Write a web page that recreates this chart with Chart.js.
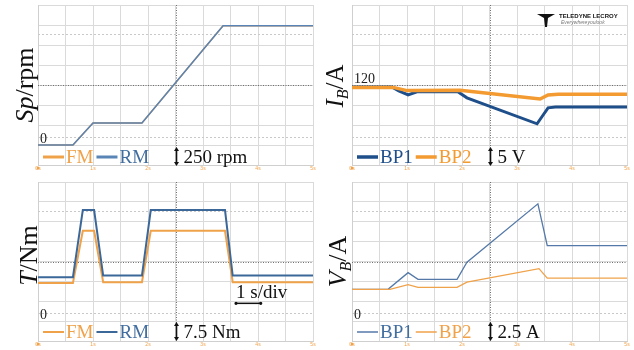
<!DOCTYPE html>
<html>
<head>
<meta charset="utf-8">
<script src="https://cdn.jsdelivr.net/npm/chart.js@4"></script>
<style>
  body{margin:0;background:#fff;width:634px;height:350px;position:relative;overflow:hidden}
  canvas{position:absolute}
</style>
</head>
<body>
<canvas id="cSp" width="320" height="175" style="left:0;top:0"></canvas>
<canvas id="cIb" width="314" height="175" style="left:320px;top:0"></canvas>
<canvas id="cT" width="320" height="175" style="left:0;top:175px"></canvas>
<canvas id="cVb" width="314" height="175" style="left:320px;top:175px"></canvas>
<script>
"use strict";
// axe du temps (graduations tous les 2 carreaux)
const TICK_LABELS = ["0s", "1s", "2s", "3s", "4s", "5s"];

// vitesse (rpm)
const SP_T  = [0, 1.27, 2.0, 3.78, 6.73, 10];
const SP_FM = [0, 0, 275, 275, 1490, 1490];
const SP_RM = [0, 0, 275, 275, 1490, 1490];

// courant batterie I_B
const IB_T1  = [0, 1.45, 1.7, 2.04, 2.36, 3.85, 4.18, 6.73, 6.9, 7.13, 7.4, 10];
const IB_BP1 = [119.5, 119.5, 118.5, 117.5, 118.3, 118.3, 116.8, 110.3, 112, 114.3, 114.5, 114.5];
const IB_T2  = [0, 1.5, 2.0, 3.93, 6.84, 7.13, 7.5, 10];
const IB_BP2 = [119.4, 119.4, 118.6, 118.7, 116.5, 117.5, 117.7, 117.7];

// couple (Nm)
const TQ_T  = [0, 1.27, 1.63, 2.04, 2.37, 3.78, 4.1, 6.8, 7.08, 10];
const TQ_FM = [14.4, 14.4, 34.1, 34.1, 14.7, 14.7, 34.1, 34.1, 14.7, 14.7];
const TQ_RM = [16.6, 16.6, 41.9, 41.9, 17.2, 17.2, 41.9, 41.9, 17.2, 17.2];

// tension V_B
const VB_T1  = [0, 1.31, 2.04, 2.4, 3.82, 4.18, 6.76, 7.1, 10];
const VB_BP1 = [4.0, 4.0, 6.1, 5.25, 5.25, 7.4, 14.75, 9.5, 9.5];
const VB_T2  = [0, 1.38, 2.04, 2.4, 3.82, 4.18, 6.8, 7.1, 10];
const VB_BP2 = [4.0, 4.0, 4.6, 4.25, 4.25, 4.9, 6.6, 5.4, 5.4];

const ORANGE = "#f0a24a";
const BLUE = "#416d9f";
const SERIF = "'Liberation Serif', 'DejaVu Serif', serif";

const pts = (t, v) => t.map((x, i) => ({x: x, y: v[i]}));

// petite fleche verticale pour l'echelle
const vArrow = (ctx, x, y1, y2) => {
  ctx.strokeStyle = "#111"; ctx.fillStyle = "#111"; ctx.lineWidth = 1.6; ctx.setLineDash([]);
  ctx.beginPath(); ctx.moveTo(x, y1 + 2); ctx.lineTo(x, y2 - 2); ctx.stroke();
  ctx.beginPath(); ctx.moveTo(x - 2.5, y1 + 3); ctx.lineTo(x, y1 - 1); ctx.lineTo(x + 2.5, y1 + 3); ctx.fill();
  ctx.beginPath(); ctx.moveTo(x - 2.5, y2 - 3); ctx.lineTo(x, y2 + 1); ctx.lineTo(x + 2.5, y2 - 3); ctx.fill();
};

const deco = {
  id: "deco",
  beforeDatasetsDraw(chart) {
    const {ctx, chartArea: a, scales: {x}} = chart;
    ctx.save();
    // lignes pointillees claires
    ctx.strokeStyle = "#c9c9c9"; ctx.lineWidth = 1; ctx.setLineDash([2, 2]);
    [a.top + 29, a.bottom - 28].forEach(yy => {
      ctx.beginPath(); ctx.moveTo(a.left, yy + 0.5); ctx.lineTo(a.right, yy + 0.5); ctx.stroke();
    });
    // axes centraux
    ctx.strokeStyle = "#6f6f6f"; ctx.setLineDash([1, 1.5]);
    const cx = Math.round(x.getPixelForValue(5)) + 0.5;
    const cy = Math.round((a.top + a.bottom) / 2) + 0.5;
    ctx.beginPath(); ctx.moveTo(cx, a.top); ctx.lineTo(cx, a.bottom); ctx.stroke();
    ctx.beginPath(); ctx.moveTo(a.left, cy); ctx.lineTo(a.right, cy); ctx.stroke();
    ctx.restore();
  },
  afterDraw(chart) {
    const o = chart.options.plugins.deco;
    const {ctx, chartArea: a, scales: {x, y}} = chart;
    ctx.save();
    ctx.textBaseline = "alphabetic";

    // titre vertical
    ctx.save();
    ctx.translate(o.titleX, (a.top + a.bottom) / 2 + o.titleDy);
    ctx.rotate(-Math.PI / 2);
    ctx.fillStyle = "#111";
    const fontOf = p => (p.it ? "italic " : "") + (p.sub ? 16 : o.titleSize) + "px " + SERIF;
    let w = 0;
    o.title.forEach(p => {
      ctx.font = fontOf(p);
      w += ctx.measureText(p.t).width;
    });
    let px = -w / 2;
    o.title.forEach(p => {
      ctx.font = fontOf(p);
      ctx.fillText(p.t, px, p.sub ? 5 : 0);
      px += ctx.measureText(p.t).width;
    });
    ctx.restore();

    // etiquette du zero
    ctx.font = "14px " + SERIF; ctx.fillStyle = "#222";
    ctx.fillText(o.zeroText, a.left + 2, y.getPixelForValue(o.zeroValue) - 2);

    // legende
    const base = a.bottom - o.legendDy;
    let lx = a.left + 5;
    ctx.font = "19px " + SERIF;
    chart.data.datasets.forEach((ds, i) => {
      ctx.strokeStyle = ds.borderColor; ctx.lineWidth = o.legendLine; ctx.setLineDash([]);
      ctx.beginPath(); ctx.moveTo(lx, base - 6); ctx.lineTo(lx + 21, base - 6); ctx.stroke();
      lx += 23;
      ctx.fillStyle = o.legendColors[i];
      ctx.fillText(ds.label, lx, base);
      lx += ctx.measureText(ds.label).width + 3;
    });

    // echelle verticale
    const ax = x.getPixelForValue(5) + 1;
    vArrow(ctx, ax, base - 15, base + 2);
    ctx.fillStyle = "#111"; ctx.font = "19px " + SERIF;
    ctx.fillText(o.scaleText, ax + 7, base);

    // point orange a l'origine
    ctx.fillStyle = ORANGE;
    ctx.beginPath(); ctx.arc(a.left, a.bottom + 3, 1.5, 0, Math.PI * 2); ctx.fill();

    if (o.timeBase) {
      ctx.font = "19px " + SERIF; ctx.fillStyle = "#111";
      ctx.fillText("1 s/div", x.getPixelForValue(7.2), y.getPixelForValue(o.timeBaseY));
      const ty = y.getPixelForValue(o.timeBaseY) + 5;
      const x1 = x.getPixelForValue(7.2), x2 = x.getPixelForValue(8.1);
      ctx.strokeStyle = "#111"; ctx.lineWidth = 1.5;
      ctx.beginPath(); ctx.moveTo(x1, ty); ctx.lineTo(x2, ty); ctx.stroke();
      ctx.beginPath(); ctx.arc(x1, ty, 1.6, 0, Math.PI * 2); ctx.arc(x2, ty, 1.6, 0, Math.PI * 2); ctx.fill();
    }

    if (o.logo) {
      // logo Teledyne LeCroy
      const lgx = a.right - 90, lgy = a.top + 8;
      ctx.fillStyle = "#111";
      ctx.beginPath();
      ctx.moveTo(lgx, lgy + 1); ctx.lineTo(lgx + 18, lgy + 1); ctx.lineTo(lgx + 11, lgy + 5);
      ctx.lineTo(lgx + 10, lgy + 14); ctx.lineTo(lgx + 8, lgy + 14); ctx.lineTo(lgx + 7, lgy + 5);
      ctx.closePath(); ctx.fill();
      ctx.font = "bold 6px 'Liberation Sans', sans-serif";
      ctx.fillText("TELEDYNE LECROY", lgx + 22, lgy + 5);
      ctx.fillStyle = "#777"; ctx.font = "italic 5px 'Liberation Sans', sans-serif";
      ctx.fillText("Everywhereyoulook", lgx + 24, lgy + 11);
    }
    ctx.restore();
  }
};

const makeChart = (id, sets, yMin, yStep, pad, xh, deco_opts) => {
  const ctx = document.getElementById(id).getContext("2d");
  return new Chart(ctx, {
    type: "line",
    data: {
      // la derniere serie est dessinee par-dessus
      datasets: sets.map((s, i) => ({
        label: s.label, data: s.data, borderColor: s.color, borderWidth: s.w,
        pointRadius: 0, tension: 0, fill: false, order: sets.length - 1 - i
      }))
    },
    options: {
      responsive: false,
      animation: false,
      layout: {padding: pad},
      plugins: {legend: {display: false}, tooltip: {enabled: false}, deco: deco_opts},
      scales: {
        x: {
          type: "linear", min: 0, max: 10,
          afterFit: s => { s.height = xh; },
          ticks: {
            stepSize: 1, autoSkip: false, maxRotation: 0, padding: 1,
            color: ORANGE, font: {size: 5},
            callback: v => (v % 2 === 0 ? TICK_LABELS[v / 2] : "")
          },
          grid: {color: "#dadada", drawTicks: false},
          border: {color: "#cfcfcf"}
        },
        y: {
          min: yMin, max: yMin + 8 * yStep,
          afterFit: s => { s.width = 0; },
          ticks: {display: false, stepSize: yStep},
          grid: {color: "#dadada", drawTicks: false},
          border: {color: "#cfcfcf"}
        }
      }
    },
    plugins: [deco]
  });
};

// vitesse
makeChart("cSp", [
  {label: "FM", data: pts(SP_T, SP_FM), color: ORANGE, w: 1.5},
  {label: "RM", data: pts(SP_T, SP_RM), color: "#5884b6", w: 1.5}
], -250, 250, {left: 38, right: 7, top: 5, bottom: 0}, 10, {
  title: [{t: "Sp", it: true}, {t: "/rpm"}], titleX: 33, titleDy: 0, titleSize: 26,
  zeroText: "0", zeroValue: 0, legendDy: 2, legendLine: 3,
  legendColors: [ORANGE, BLUE], scaleText: "250 rpm"
});

// courant
makeChart("cIb", [
  {label: "BP1", data: pts(IB_T1, IB_BP1), color: "#1f4f8a", w: 3},
  {label: "BP2", data: pts(IB_T2, IB_BP2), color: "#f39a30", w: 3.5}
], 100, 5, {left: 32, right: 7, top: 5, bottom: 0}, 10, {
  title: [{t: "I", it: true}, {t: "B", it: true, sub: true}, {t: "/A"}], titleX: 23, titleDy: 1, titleSize: 25,
  zeroText: "120", zeroValue: 120, legendDy: 2, legendLine: 3.5,
  legendColors: ["#1f4f8a", "#f39a30"], scaleText: "5 V", logo: true
});

// couple
makeChart("cT", [
  {label: "FM", data: pts(TQ_T, TQ_FM), color: ORANGE, w: 2},
  {label: "RM", data: pts(TQ_T, TQ_RM), color: "#3c6899", w: 2}
], -7.5, 7.5, {left: 38, right: 7, top: 7, bottom: 0}, 9, {
  title: [{t: "T", it: true}, {t: "/Nm"}], titleX: 37, titleDy: -6, titleSize: 26,
  zeroText: "0", zeroValue: 0, legendDy: 3, legendLine: 2,
  legendColors: [ORANGE, BLUE], scaleText: "7.5 Nm",
  timeBase: true, timeBaseY: 8.6
});

// tension
makeChart("cVb", [
  {label: "BP1", data: pts(VB_T1, VB_BP1), color: "#5479a8", w: 1.3},
  {label: "BP2", data: pts(VB_T2, VB_BP2), color: ORANGE, w: 1.3}
], -2.5, 2.5, {left: 32, right: 7, top: 7, bottom: 0}, 9, {
  title: [{t: "V", it: true}, {t: "B", it: true, sub: true}, {t: "/A"}], titleX: 26, titleDy: 0, titleSize: 26,
  zeroText: "0", zeroValue: 0, legendDy: 3, legendLine: 1.5,
  legendColors: [BLUE, ORANGE], scaleText: "2.5 A"
});
</script>
</body>
</html>
